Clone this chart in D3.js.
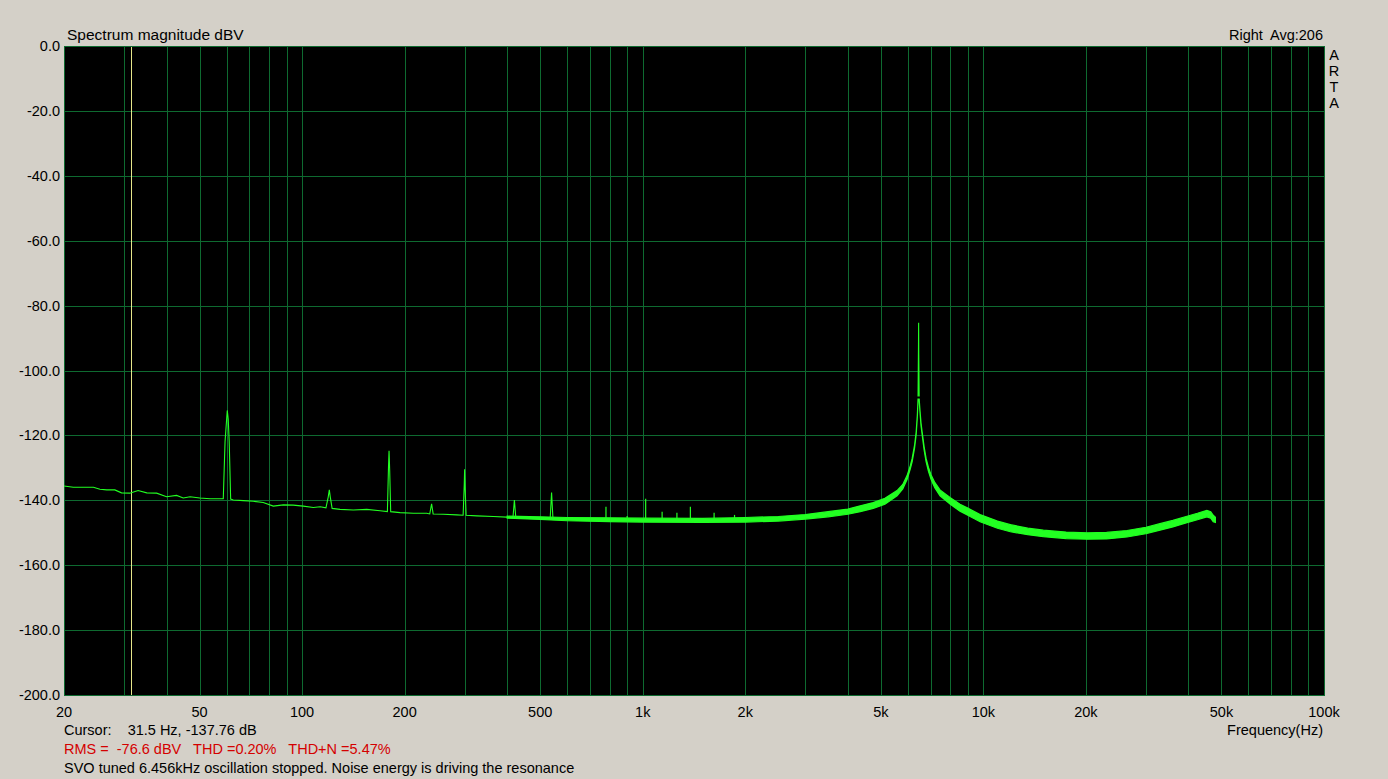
<!DOCTYPE html>
<html><head><meta charset="utf-8">
<script src="https://cdn.jsdelivr.net/npm/d3@7/dist/d3.min.js"></script>
<style>
body{margin:0;background:#d4d0c8;}
svg{display:block;}
text{font-family:"Liberation Sans",Arial,sans-serif;font-size:14.5px;fill:#000;white-space:pre;}
</style>
</head><body>
<svg id="chart" width="1388" height="779"></svg>
<script>
// ---------- data ----------
const yTicks = [0, -20, -40, -60, -80, -100, -120, -140, -160, -180, -200];
const yTickLabels = ["0.0","-20.0","-40.0","-60.0","-80.0","-100.0","-120.0","-140.0","-160.0","-180.0","-200.0"];
const xTickValues = [20, 50, 100, 200, 500, 1000, 2000, 5000, 10000, 20000, 50000, 100000];
const xTickLabels = ["20","50","100","200","500","1k","2k","5k","10k","20k","50k","100k"];
const cursorFreq = 31.5;

// thin low-frequency trace (Hz, dBV)
const lowFreq = [20, 21.3, 22.8, 24.4, 25.5, 26.7, 28.2, 29.5, 31.2, 33.0, 35.0, 37.4, 40.0, 42.8, 44.8, 46.9, 50.1, 53.7, 57.4,
  58.7, 59.4, 60.3, 60.7, 61.1, 61.7,
  62.8, 67.2, 71.9, 76.9, 82.3, 88.1, 94.2, 100.8, 107.9, 113, 117.5, 119.3, 120.2, 121, 122.5,
  129.2, 141.4, 154.8, 169.4, 178, 179.3, 180, 180.8, 182,
  193.9, 212.2, 232.2, 237, 240, 242.5, 259.9, 284.4, 297, 299.3, 300, 301, 303,
  325.7, 364.3, 398.9, 416, 420, 424, 477.5, 535, 540, 545];
const lowDb = [-135.6, -136.0, -136.0, -136.0, -136.6, -136.8, -136.8, -137.7, -137.8, -137.0, -137.7, -137.8, -138.9, -138.5, -139.3, -138.9, -139.3, -139.5, -139.5,
  -139.5, -122, -112.3, -115, -122, -139.6,
  -139.9, -140.1, -140.3, -140.7, -141.8, -141.4, -141.5, -141.8, -142.2, -142.0, -142.3, -139.0, -136.8, -139.0, -142.5,
  -142.8, -143.0, -142.8, -143.2, -143.5, -130.0, -124.7, -131.0, -143.5,
  -143.8, -144.0, -144.0, -144.2, -141.1, -144.2, -144.3, -144.5, -144.6, -135.0, -130.4, -136.0, -144.6,
  -144.8, -145.0, -145.2, -145.3, -139.9, -145.3, -145.5, -145.6, -137.6, -145.6];

// noisy band (Hz, centre dB, half spread dB)
const bandFreq = [400, 500, 600, 800, 1000, 1500, 2000, 2500, 3000, 3500, 4000, 4350, 4750, 5140, 5580, 5800, 5970, 6100, 6180, 6280, 6350, 6400, 6430,
  6480, 6520, 6560, 6610, 6700, 6790, 6900, 7020, 7200, 7460, 8000, 8540, 9000, 9780, 11000, 12000, 13500, 15000, 17500, 20200, 23000, 26400, 30000, 33000, 36000, 39600, 42500, 45300, 46500, 47300, 48000];
const bandCenter = [-145.2, -145.5, -145.8, -146.0, -146.1, -146.2, -146.0, -145.7, -145.1, -144.3, -143.5, -142.6, -141.6, -140.3, -137.8, -135.8, -133.0, -129.9, -127.6, -123.5, -119.3, -114.0, -109.0,
  -109.0, -113.0, -116.5, -119.3, -124.0, -127.6, -130.5, -132.8, -135.3, -137.7, -140.2, -142.3, -143.5, -145.5, -147.5, -148.6, -149.6, -150.2, -150.8, -151.0, -150.9, -150.3, -149.3, -148.2, -147.2, -145.9, -145.0, -144.1, -144.5, -145.6, -146.0];
const bandSpread = [0.3, 0.4, 0.5, 0.6, 0.6, 0.6, 0.7, 0.7, 0.7, 0.8, 0.8, 0.9, 0.9, 0.9, 0.8, 0.7, 0.6, 0.5, 0.5, 0.4, 0.4, 0.3, 0.2,
  0.2, 0.3, 0.4, 0.4, 0.5, 0.5, 0.6, 0.7, 0.8, 0.9, 1.0, 1.1, 1.1, 1.1, 1.1, 1.1, 1.0, 1.0, 1.0, 1.0, 1.0, 1.0, 1.0, 1.0, 1.0, 1.0, 1.0, 1.0, 1.0, 1.0, 0.8];

// resonance tip
const resFreq = [6430, 6450, 6456, 6462, 6480];
const resDb = [-108.0, -92.0, -85.3, -95.0, -108.0];

// mains harmonics riding on the noise band
const harmFreq = [780, 900, 1020, 1140, 1260, 1380, 1620, 1860, 12000];
const harmPeakDb = [-142.0, -144.8, -139.5, -143.5, -143.8, -142.0, -143.8, -144.5, -147.3];
const harmBaseDb = [-146.0, -146.0, -146.1, -146.1, -146.1, -146.2, -146.2, -146.1, -148.6];

// ---------- drawing ----------
const W = 1388, H = 779;
const L = 64, R = 1324, T = 46, B = 695;
const svg = d3.select("#chart");
const x = d3.scaleLog().domain([20, 100000]).range([L, R]);
const y = d3.scaleLinear().domain([0, -200]).range([T, B]);

svg.append("rect").attr("width", W).attr("height", H).attr("fill", "#d4d0c8");
svg.append("rect").attr("x", L).attr("y", T).attr("width", R - L).attr("height", B - T).attr("fill", "#000");

const gridColor = "#0e6a30";
const gridFreqs = [];
for (let dec = 10; dec <= 100000; dec *= 10) {
  for (let k = 1; k <= 9; k++) {
    const f = k * dec;
    if (f > 20 && f < 100000) gridFreqs.push(f);
  }
}
const grid = svg.append("g").attr("shape-rendering", "crispEdges");
grid.selectAll("line.v").data(gridFreqs).join("line")
  .attr("x1", d => Math.round(x(d)) + 0.5).attr("x2", d => Math.round(x(d)) + 0.5)
  .attr("y1", T).attr("y2", B)
  .attr("stroke", gridColor).attr("stroke-width", 1);
grid.selectAll("line.h").data(yTicks).join("line")
  .attr("x1", L).attr("x2", R)
  .attr("y1", d => Math.round(y(d)) + 0.5).attr("y2", d => Math.round(y(d)) + 0.5)
  .attr("stroke", gridColor).attr("stroke-width", 1);
svg.append("rect").attr("x", L + 0.5).attr("y", T + 0.5).attr("width", R - L).attr("height", B - T)
  .attr("fill", "none").attr("stroke", gridColor).attr("shape-rendering", "crispEdges");

// cursor
svg.append("line")
  .attr("x1", Math.round(x(cursorFreq)) + 0.5).attr("x2", Math.round(x(cursorFreq)) + 0.5)
  .attr("y1", T + 1).attr("y2", B)
  .attr("stroke", "#e6e68a").attr("stroke-width", 1).attr("shape-rendering", "crispEdges");

const traceColor = "#22ff22";
const plot = svg.append("g");

// noise band
const bandData = bandFreq.map((f, i) => ({f, lo: bandCenter[i] - bandSpread[i], hi: bandCenter[i] + bandSpread[i]}));
plot.append("path").datum(bandData)
  .attr("d", d3.area().x(d => x(d.f)).y0(d => y(d.lo)).y1(d => y(d.hi)))
  .attr("fill", traceColor).attr("stroke", traceColor).attr("stroke-width", 1.2);

// low-frequency thin trace
const lowData = lowFreq.map((f, i) => ({f, v: lowDb[i]}));
const line = d3.line().x(d => x(d.f)).y(d => y(d.v));
plot.append("path").datum(lowData).attr("d", line)
  .attr("fill", "none").attr("stroke", traceColor).attr("stroke-width", 1.1);

// resonance tip
const resData = resFreq.map((f, i) => ({f, v: resDb[i]}));
plot.append("path").datum(resData).attr("d", line)
  .attr("fill", "none").attr("stroke", traceColor).attr("stroke-width", 1.1);

// harmonic spikes
plot.selectAll("line.harm").data(harmFreq).join("line")
  .attr("x1", d => x(d)).attr("x2", d => x(d))
  .attr("y1", (d, i) => y(harmBaseDb[i])).attr("y2", (d, i) => y(harmPeakDb[i]))
  .attr("stroke", traceColor).attr("stroke-width", 1.2);

// axes labels
svg.append("g").selectAll("text").data(yTicks).join("text")
  .attr("x", 60).attr("y", d => y(d) + 5).attr("text-anchor", "end")
  .text((d, i) => yTickLabels[i]);
svg.append("g").selectAll("text").data(xTickValues).join("text")
  .attr("x", d => x(d)).attr("y", 717).attr("text-anchor", "middle")
  .text((d, i) => xTickLabels[i]);

svg.append("text").attr("x", 67).attr("y", 40).style("font-size", "15.5px").text("Spectrum magnitude dBV");
svg.append("text").attr("x", 1323).attr("y", 40).attr("text-anchor", "end").text("Right  Avg:206");
["A", "R", "T", "A"].forEach((c, i) => {
  svg.append("text").attr("x", 1334).attr("y", 60 + i * 16).attr("text-anchor", "middle").text(c);
});
svg.append("text").attr("x", 1323).attr("y", 735).attr("text-anchor", "end").text("Frequency(Hz)");
svg.append("text").attr("x", 64).attr("y", 735).text("Cursor:    31.5 Hz, -137.76 dB");
svg.append("text").attr("x", 64).attr("y", 754).style("fill", "#d40000").text("RMS =  -76.6 dBV   THD =0.20%   THD+N =5.47%");
svg.append("text").attr("x", 64).attr("y", 773).text("SVO tuned 6.456kHz oscillation stopped. Noise energy is driving the resonance");
</script>
</body></html>
